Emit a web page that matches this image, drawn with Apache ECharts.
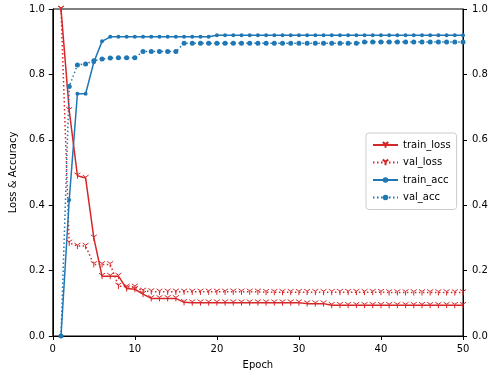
<!DOCTYPE html>
<html><head><meta charset="utf-8">
<script src="https://cdn.jsdelivr.net/npm/echarts@6/dist/echarts.min.js"></script>
<style>html,body{margin:0;padding:0;background:#fff}#c{width:492px;height:375px}</style>
</head><body><div id="c"></div>
<script>
const epochs = Array.from({length:50},(_,i)=>i+1);
const trainLoss = [1.0,0.69,0.49,0.483,0.30,0.183,0.183,0.183,0.145,0.143,
0.128,0.115,0.115,0.115,0.115,0.103,0.102,0.102,0.102,0.102,
0.102,0.102,0.102,0.102,0.102,0.102,0.102,0.102,0.102,0.102,
0.099,0.099,0.099,0.094,0.094,0.094,0.094,0.094,0.094,0.094,
0.094,0.094,0.094,0.094,0.094,0.094,0.094,0.094,0.094,0.094];
const valLoss = [1.0,0.285,0.275,0.275,0.219,0.219,0.219,0.153,0.150,0.150,
0.138,0.136,0.135,0.135,0.135,0.135,0.135,0.135,0.135,0.135,
0.135,0.135,0.135,0.135,0.135,0.134,0.134,0.134,0.134,0.134,
0.134,0.134,0.134,0.134,0.134,0.134,0.134,0.134,0.134,0.134,
0.133,0.133,0.133,0.133,0.133,0.133,0.133,0.133,0.133,0.133];
const trainAcc = [0,0.416,0.741,0.741,0.837,0.901,0.915,0.915,0.915,0.915,
0.915,0.915,0.915,0.915,0.915,0.915,0.915,0.915,0.915,0.92,
0.92,0.92,0.92,0.92,0.92,0.92,0.92,0.92,0.92,0.92,
0.92,0.92,0.92,0.92,0.92,0.92,0.92,0.92,0.92,0.92,
0.92,0.92,0.92,0.92,0.92,0.92,0.92,0.92,0.92,0.92];
const valAcc = [0,0.763,0.829,0.832,0.842,0.847,0.850,0.851,0.851,0.851,
0.870,0.870,0.870,0.870,0.870,0.895,0.895,0.895,0.895,0.895,
0.895,0.895,0.895,0.895,0.895,0.895,0.895,0.895,0.895,0.895,
0.895,0.895,0.895,0.895,0.895,0.895,0.895,0.899,0.899,0.899,
0.899,0.899,0.899,0.899,0.899,0.899,0.899,0.899,0.899,0.899];
const yTicks = ['0.0','0.2','0.4','0.6','0.8','1.0'];

const RED = '#d62728', BLUE = '#1f77b4';
const TRI = 'path://M0,0 L0,10 M0,0 L-8.66,-5 M0,0 L8.66,-5';
const font = 'DejaVu Sans';
const pair = arr => arr.map((v,i)=>[epochs[i], v]);
const dotted = [1.5, 2.5];

const axisCommon = {
  axisLine:{show:true, lineStyle:{color:'#000', width:1}},
  axisTick:{show:true, length:4, lineStyle:{color:'#000'}},
  splitLine:{show:false},
  axisLabel:{color:'#000', fontFamily:font, fontSize:10}
};
const yFmt = v => yTicks[Math.round(v/0.2)];

const chart = echarts.init(document.getElementById('c'), null, {renderer:'canvas'});
chart.setOption({
  animation:false,
  textStyle:{fontFamily:font},
  grid:{left:43, right:29, top:9, bottom:38, show:true, borderColor:'#000', borderWidth:1, backgroundColor:'transparent'},
  legend:{
    orient:'vertical', left:366, top:133,
    backgroundColor:'rgba(255,255,255,0.8)', borderColor:'#ccc', borderWidth:1, borderRadius:3,
    padding:[7,6,7,6], itemGap:7.5, itemWidth:25, itemHeight:7,
    textStyle:{fontFamily:font, fontSize:10, color:'#000'},
    data:['train_loss','val_loss','train_acc','val_acc']
  },
  xAxis:Object.assign({type:'value', min:0, max:50, interval:10,
    name:'Epoch', nameLocation:'middle', nameGap:24,
    nameTextStyle:{color:'#000', fontFamily:font, fontSize:10}}, axisCommon),
  yAxis:[
    Object.assign({type:'value', min:0, max:1, interval:0.2, position:'left',
      name:'Loss & Accuracy', nameLocation:'middle', nameGap:29, nameRotate:90,
      nameTextStyle:{color:'#000', fontFamily:font, fontSize:10}}, axisCommon,
      {axisLabel:{color:'#000', fontFamily:font, fontSize:10, formatter:yFmt}}),
    Object.assign({type:'value', min:0, max:1, interval:0.2, position:'right'}, axisCommon,
      {axisLabel:{color:'#000', fontFamily:font, fontSize:10, formatter:yFmt, margin:9}})
  ],
  series:[
    {name:'train_loss', type:'line', data:pair(trainLoss), symbol:TRI, symbolSize:6,
     lineStyle:{color:RED, width:1.5}, itemStyle:{color:RED, borderColor:RED, borderWidth:1},
     showAllSymbol:true},
    {name:'val_loss', type:'line', data:pair(valLoss), symbol:TRI, symbolSize:6,
     lineStyle:{color:RED, width:1.5, type:dotted}, itemStyle:{color:RED, borderColor:RED, borderWidth:1},
     showAllSymbol:true},
    {name:'train_acc', type:'line', data:pair(trainAcc), symbol:'circle', symbolSize:4,
     lineStyle:{color:BLUE, width:1.5}, itemStyle:{color:BLUE, borderWidth:0},
     showAllSymbol:true},
    {name:'val_acc', type:'line', data:pair(valAcc), symbol:'circle', symbolSize:5,
     lineStyle:{color:BLUE, width:1.5, type:dotted}, itemStyle:{color:BLUE, borderWidth:0},
     showAllSymbol:true}
  ]
});
</script></body></html>
